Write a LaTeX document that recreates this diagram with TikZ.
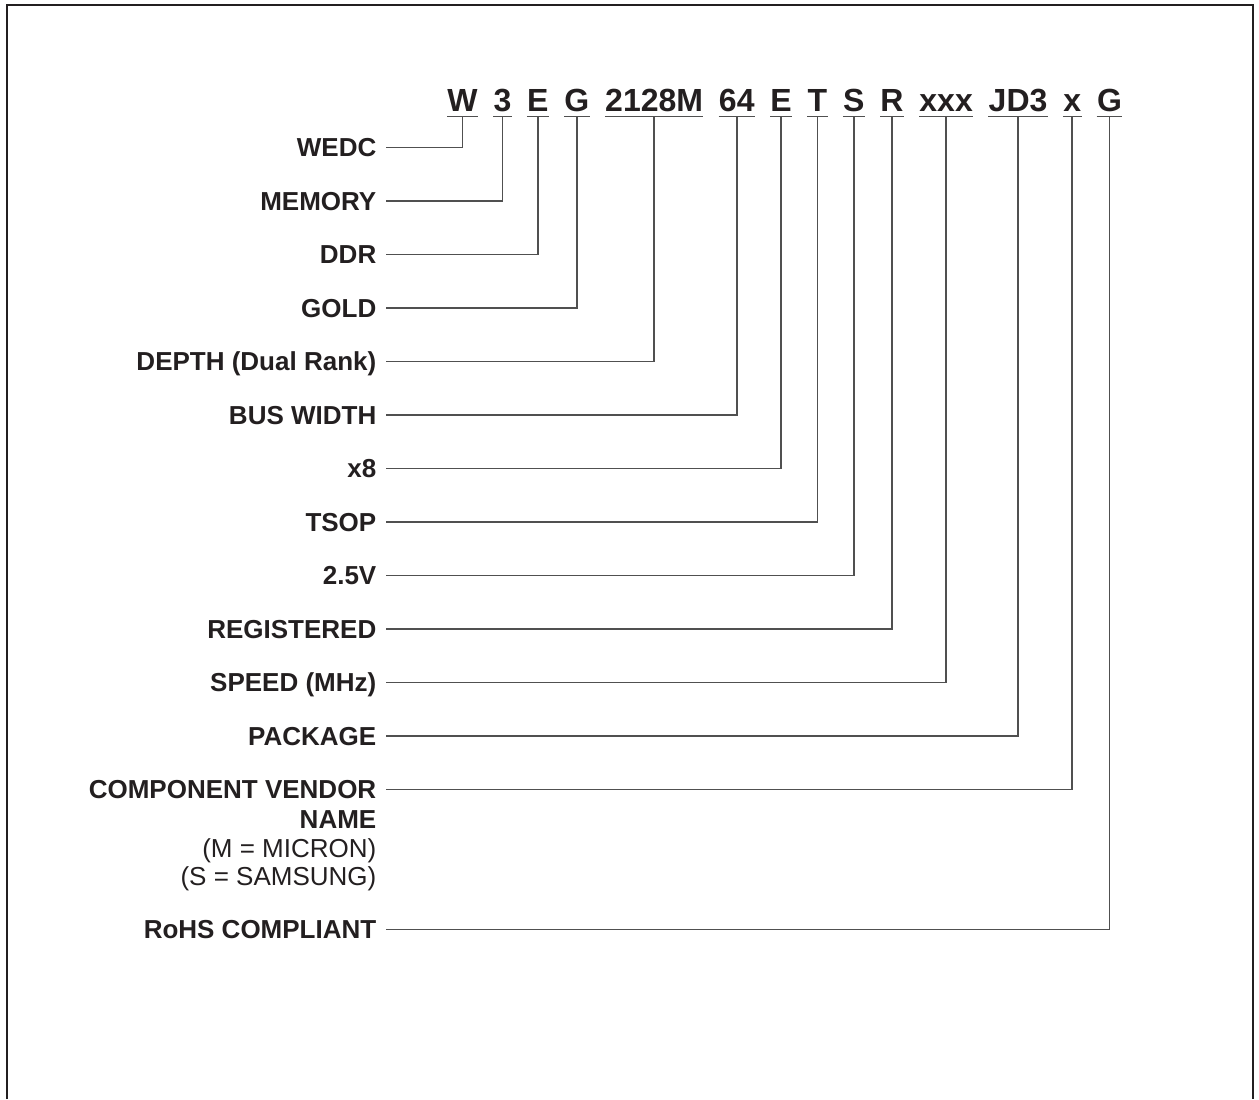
\documentclass[tikz,border=0pt]{standalone}
\usepackage{fontspec}
\setmainfont{Liberation Sans}
\usetikzlibrary{positioning}
\definecolor{inkDark}{RGB}{35,31,32}
\definecolor{lineGray}{RGB}{80,80,80}

\begin{document}
\begin{tikzpicture}[
    x=0.5pt, y=-0.5pt,
    text=inkDark,
    lead/.style={draw=lineGray, line width=0.75pt},
    code/.style={
      font=\fontsize{16}{18}\selectfont\bfseries,
      inner xsep=0pt,
      inner ysep=2.5pt,
      text height=11.5pt,
      text depth=0pt
    },
    field/.style={
      font=\fontsize{13}{14.2}\selectfont\bfseries,
      anchor=east,
      inner xsep=4.5pt,
      inner ysep=0pt,
      text height=9.3pt,
      text depth=0pt
    },
    note/.style={
      font=\fontsize{13}{14.2}\selectfont,
      align=right,
      inner xsep=4.5pt,
      inner ysep=0pt
    }
  ]
    \useasboundingbox (0,0) rectangle (1259,1099);
    \draw[draw=inkDark, line width=1pt] (6.5,1099) |- (1253,5) -- (1253,1099);

    % part number
    \node[code, anchor=south west] (cw) at (447,116.7) {W};
    \node[code, right=7.55pt of cw] (cmem) {3};
    \node[code, right=7.55pt of cmem] (cddr) {E};
    \node[code, right=7.55pt of cddr] (cgold) {G};
    \node[code, right=7.55pt of cgold] (cdepth) {2128M};
    \node[code, right=7.55pt of cdepth] (cbus) {64};
    \node[code, right=7.55pt of cbus] (cxeight) {E};
    \node[code, right=7.55pt of cxeight] (ctsop) {T};
    \node[code, right=7.55pt of ctsop] (cvolt) {S};
    \node[code, right=7.55pt of cvolt] (creg) {R};
    \node[code, right=7.55pt of creg] (cspeed) {xxx};
    \node[code, right=7.55pt of cspeed] (cpkg) {JD3};
    \node[code, right=7.55pt of cpkg] (cvendor) {x};
    \node[code, right=7.55pt of cvendor] (crohs) {G};

    \foreach \c in {cw,cmem,cddr,cgold,cdepth,cbus,cxeight,ctsop,cvolt,creg,cspeed,cpkg,cvendor,crohs}
      \draw[lead] (\c.south west) -- (\c.south east);

    % field names
    \node[field] (wedc) at (385.7,147.3) {WEDC};
    \node[field] (memory) at (385.7,200.8) {MEMORY};
    \node[field] (ddr) at (385.7,254.3) {DDR};
    \node[field] (gold) at (385.7,307.8) {GOLD};
    \node[field] (depth) at (385.7,361.3) {DEPTH (Dual Rank)};
    \node[field] (buswidth) at (385.7,414.8) {BUS WIDTH};
    \node[field] (xeight) at (385.7,468.3) {x8};
    \node[field] (tsop) at (385.7,521.8) {TSOP};
    \node[field] (volt) at (385.7,575.3) {2.5V};
    \node[field] (registered) at (385.7,628.8) {REGISTERED};
    \node[field] (speed) at (385.7,682.3) {SPEED (MHz)};
    \node[field] (package) at (385.7,735.8) {PACKAGE};
    \node[field] (vendor) at (385.7,789.3) {COMPONENT VENDOR};
    \node[note, below=5.7pt of vendor.south east, anchor=north east] (vendornote) {
      \textbf{NAME}\\
      (M = MICRON)\\
      (S = SAMSUNG)
    };
    \node[field] (rohs) at (385.7,929.3) {RoHS COMPLIANT};

    \draw[lead] (cw.south) |- (wedc.east);
    \draw[lead] (cmem.south) |- (memory.east);
    \draw[lead] (cddr.south) |- (ddr.east);
    \draw[lead] (cgold.south) |- (gold.east);
    \draw[lead] (cdepth.south) |- (depth.east);
    \draw[lead] (cbus.south) |- (buswidth.east);
    \draw[lead] (cxeight.south) |- (xeight.east);
    \draw[lead] (ctsop.south) |- (tsop.east);
    \draw[lead] (cvolt.south) |- (volt.east);
    \draw[lead] (creg.south) |- (registered.east);
    \draw[lead] (cspeed.south) |- (speed.east);
    \draw[lead] (cpkg.south) |- (package.east);
    \draw[lead] (cvendor.south) |- (vendor.east);
    \draw[lead] (crohs.south) |- (rohs.east);
  \end{tikzpicture}
\end{document}
